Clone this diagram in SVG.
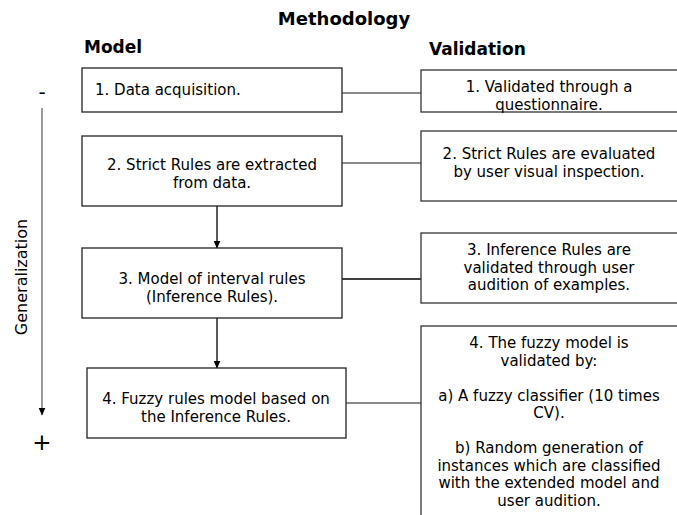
<svg xmlns="http://www.w3.org/2000/svg" width="677" height="515" viewBox="0 0 677 515">
<style>
.box{fill:#fff;stroke:#222;stroke-width:1.3}
.vbox{fill:#fff;stroke:#333;stroke-width:1.3}
.t{font-family:"DejaVu Sans",sans-serif;font-size:15px;fill:#000;text-anchor:middle}
.ts{font-family:"DejaVu Sans",sans-serif;font-size:15px;fill:#000;text-anchor:start}
.h{font-family:"DejaVu Sans",sans-serif;font-size:17px;font-weight:bold;fill:#000}
.c{stroke:#666;stroke-width:1.3;fill:none}
.ck{stroke:#000;stroke-width:1.3;fill:none}
</style>
<defs>
<marker id="ah" markerWidth="8" markerHeight="12" refX="7.5" refY="6" orient="auto" markerUnits="userSpaceOnUse">
<path d="M0,2.5 L8,6 L0,9.5 Z" fill="#000"/>
</marker>
</defs>
<rect width="677" height="515" fill="#fff"/>
<g id="titles">
<text class="h" x="344" y="25" text-anchor="middle" style="font-size:18px">Methodology</text>
<text class="h" x="84" y="53">Model</text>
<text class="h" x="429" y="55">Validation</text>
</g>
<g id="axis">
<text x="42" y="99" font-family="DejaVu Sans,sans-serif" font-size="20" text-anchor="middle">-</text>
<text x="42" y="450" font-family="DejaVu Sans,sans-serif" font-size="23" text-anchor="middle">+</text>
<text class="t" style="font-size:16px" transform="translate(27,277) rotate(-90)">Generalization</text>
</g>
<g id="connectors">
<line class="c" x1="42" y1="108" x2="42" y2="415" marker-end="url(#ah)"/>
<line class="c" x1="342" y1="93" x2="421" y2="93"/>
<line class="c" x1="342" y1="163" x2="421" y2="163"/>
<line class="ck" x1="342" y1="279" x2="421" y2="279"/>
<line class="c" x1="346" y1="403" x2="421" y2="403"/>
<line class="ck" x1="217" y1="206" x2="217" y2="248" marker-end="url(#ah)"/>
<line class="ck" x1="217" y1="318" x2="217" y2="368" marker-end="url(#ah)"/>
</g>
<g id="m1">
<rect class="box" x="82" y="68" width="260" height="44"/>
<text class="ts" x="95" y="95">1. Data acquisition.</text>
</g>
<g id="m2">
<rect class="box" x="82" y="136" width="260" height="70"/>
<text class="t" x="212" y="170">2. Strict Rules are extracted</text>
<text class="t" x="212" y="187.5">from data.</text>
</g>
<g id="m3">
<rect class="box" x="82" y="248" width="260" height="70"/>
<text class="t" x="212" y="284">3. Model of interval rules</text>
<text class="t" x="212" y="301.5">(Inference Rules).</text>
</g>
<g id="m4">
<rect class="box" x="87" y="368" width="259" height="70"/>
<text class="t" x="216" y="404">4. Fuzzy rules model based on</text>
<text class="t" x="216" y="421.5">the Inference Rules.</text>
</g>
<g id="v1">
<rect class="vbox" x="421" y="70" width="258" height="42"/>
<text class="t" x="549" y="92">1. Validated through a</text>
<text class="t" x="549" y="109.5">questionnaire.</text>
</g>
<g id="v2">
<rect class="vbox" x="421" y="131" width="258" height="70"/>
<text class="t" x="549" y="159">2. Strict Rules are evaluated</text>
<text class="t" x="549" y="176.5">by user visual inspection.</text>
</g>
<g id="v3">
<rect class="vbox" x="421" y="233" width="258" height="70"/>
<text class="t" x="549" y="255">3. Inference Rules are</text>
<text class="t" x="549" y="272.5">validated through user</text>
<text class="t" x="549" y="290">audition of examples.</text>
</g>
<g id="v4">
<rect class="vbox" x="421" y="326" width="258" height="200"/>
<text class="t" x="549" y="348">4. The fuzzy model is</text>
<text class="t" x="549" y="365.5">validated by:</text>
<text class="t" x="549" y="400.5">a) A fuzzy classifier (10 times</text>
<text class="t" x="549" y="418">CV).</text>
<text class="t" x="549" y="453">b) Random generation of</text>
<text class="t" x="549" y="470.5">instances which are classified</text>
<text class="t" x="549" y="488">with the extended model and</text>
<text class="t" x="549" y="505.5">user audition.</text>
</g>
</svg>
